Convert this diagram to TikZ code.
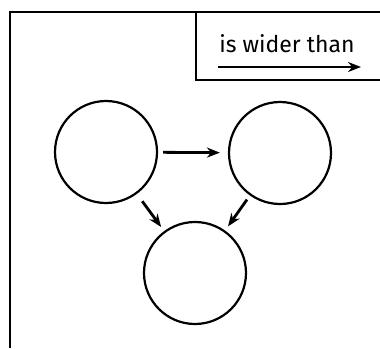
\documentclass[tikz,border=0pt]{standalone}
\usepackage{fontspec}
\setsansfont{Fira Sans}
\usepackage{tikz}
\usetikzlibrary{arrows.meta,positioning}

\begin{document}
\begin{tikzpicture}[x=1pt,y=-1pt,font=\sffamily,>={Stealth[length=13pt,width=10pt]},
 frame/.style={line width=1.8pt},
 item/.style={draw,circle,line width=2.2pt,minimum size=102pt,inner sep=0pt},
 rel/.style={->,line width=2.8pt}]
\useasboundingbox (0,0) rectangle (380,348);
% page frame and legend box
\draw[frame] (10,348)--(10,12)--(380,12);
\draw[frame] (196,12)--(196,80)--(380,80);
\node[font=\sffamily\fontsize{23}{26}\selectfont,anchor=base] (legend) at (287,52) {is wider than};
\coordinate (keyfrom) at (218,67);
\coordinate (keyto) at (361,67);
\draw[rel] (keyfrom)--(keyto);
% the three circles
\node[item] (left) at (106,152) {};
\node[item] (right) at (280,153) {};
\node[item] (bottom) at (195,273) {};
\draw[rel,shorten <=5pt,shorten >=8pt] (left)--(right);
\draw[rel,shorten <=9pt,shorten >=5pt] (left)--(bottom);
\draw[rel,shorten <=5pt,shorten >=5pt] (right)--(bottom);
\end{tikzpicture}
\end{document}
